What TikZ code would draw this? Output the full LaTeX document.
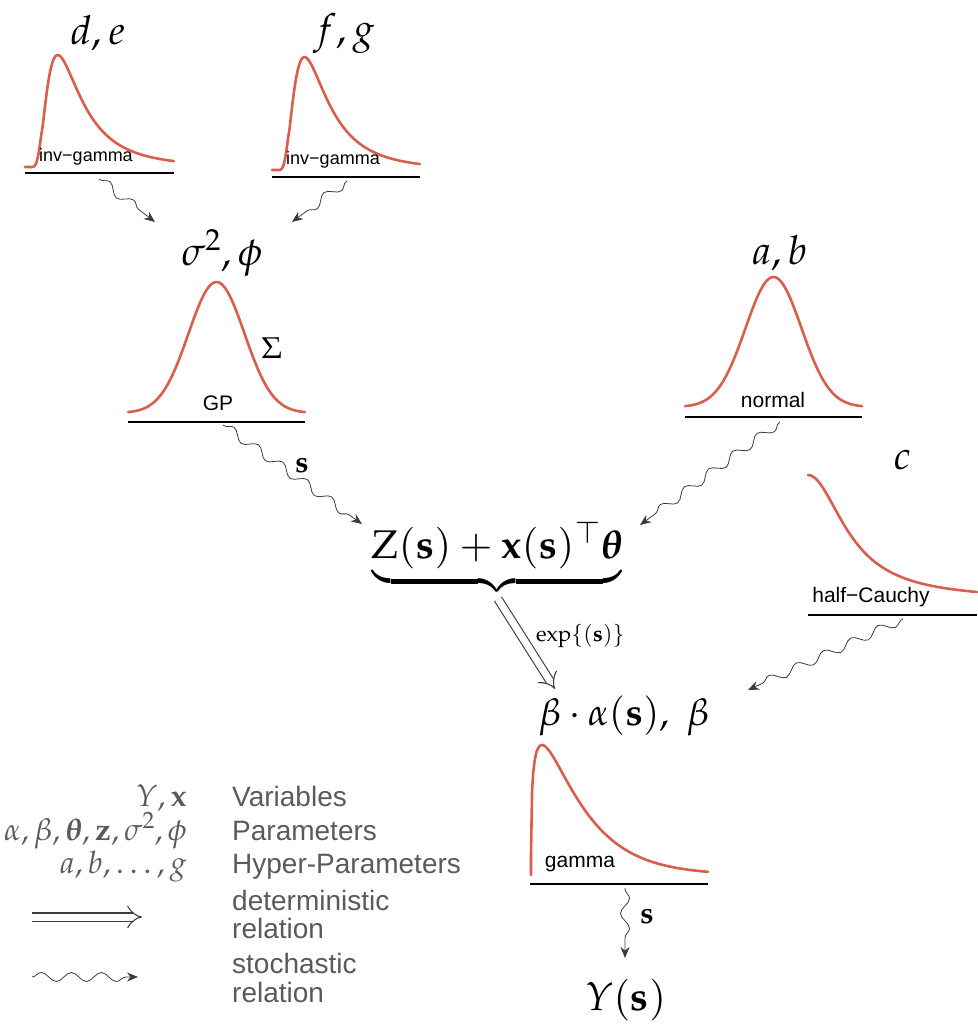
\documentclass[tikz,border=0pt]{standalone}
\usepackage{amsmath}
\usepackage{mathpazo}
\usepackage[no-math]{fontspec}
\newfontfamily\labfont{Liberation Sans}
\usetikzlibrary{arrows.meta,decorations.pathmorphing}
\definecolor{curvered}{RGB}{217,94,76}
\definecolor{arrgray}{RGB}{60,60,60}
\definecolor{leggray}{RGB}{90,90,90}
\newcommand{\linpred}{\mathrm{Z}(\mathbf{s})+\mathbf{x}(\mathbf{s})^{\top}\boldsymbol{\theta}}
\tikzset{
  curve/.style={draw=curvered, line width=2.6pt, line join=round, line cap=round},
  baseln/.style={draw=black, line width=1.3pt},
  mlab/.style={font=\fontsize{40}{44}\selectfont, inner sep=0pt},
  biglab/.style={font=\fontsize{38}{42}\selectfont, inner sep=0pt},
  distname/.style={font=\labfont\fontsize{21}{24}\selectfont, inner sep=0pt},
  smalldist/.style={font=\labfont\fontsize{18}{20}\selectfont, inner sep=0pt},
  edgelab/.style={font=\fontsize{30}{34}\selectfont, inner sep=0pt},
  legtext/.style={font=\labfont\fontsize{28}{29}\selectfont, text=leggray, inner sep=0pt, align=left},
  legmath/.style={font=\fontsize{31}{34}\selectfont, text=leggray, inner sep=0pt},
  snakearrow/.style={draw=arrgray, line width=0.8pt, decorate,
    decoration={snake, amplitude=4.5pt, segment length=30pt, pre length=1pt, post length=9pt},
    -{Stealth[length=11pt,width=9pt]}},
  detarrow/.style={draw=arrgray, double=white, double distance=7pt, line width=1.1pt,
    -{Implies[scale=1.7]}}
}
\begin{document}
\begin{tikzpicture}[x=1pt,y=-1pt]
\useasboundingbox (0,0) rectangle (977,1025);

% ---------- inv-gamma 1 (d,e)
\node[mlab] (de) at (98,33) {$d, e$};
\draw[curve] (25,167) -- plot[domain=0.05:1.14, samples=90]
  ({25+149*\x/1.14}, {167-112*exp(-1/\x-4*ln(\x)-1.5452)});
\draw[baseln] (25,173) -- (174,173);
\node[smalldist] (ig1) at (86,157) {inv−gamma};
\coordinate (ig1out) at (99,179);

% ---------- inv-gamma 2 (f,g)
\node[mlab] (fg) at (344,33) {$f, g$};
\draw[curve] (272,170) -- plot[domain=0.05:1.14, samples=90]
  ({272+148*\x/1.14}, {170-113*exp(-1/\x-4*ln(\x)-1.5452)});
\draw[baseln] (272,177) -- (420,177);
\node[smalldist] (ig2) at (333,160) {inv−gamma};
\coordinate (ig2out) at (347,181);

% ---------- GP (sigma^2, phi)
\node[mlab] (sp) at (222,253) {$\sigma^2, \phi$};
\coordinate (spin1) at (155,222);
\coordinate (spin2) at (292,222);
\draw[curve] plot[domain=-88.5:88.5, samples=90]
  ({216.5+\x}, {413-131*exp(-0.5*(\x/28)^2)});
\draw[baseln] (128,422) -- (305,422);
\node[distname] (gp) at (218,403) {GP};
\node[font=\fontsize{30}{34}\selectfont, inner sep=0pt] (sig) at (272,348) {$\Sigma$};
\coordinate (gpout) at (223,425);

% ---------- normal (a,b)
\node[mlab] (ab) at (780,253) {$a, b$};
\draw[curve] plot[domain=-88.5:88.5, samples=90]
  ({773.5+\x}, {407-130*exp(-0.5*(\x/28)^2)});
\draw[baseln] (685,417) -- (862,417);
\node[distname] (nrm) at (773,400) {normal};
\coordinate (nrmout) at (780,422);

% ---------- half-Cauchy (c)
\node[mlab] (c) at (903,460) {$c$};
\draw[curve] plot[domain=0:0.955, samples=70]
  ({808+177*\x}, {600-125/(1+16*\x*\x)});
\draw[baseln] (808,615) -- (977,615);
\node[distname] (hc) at (871,597) {half−Cauchy};
\coordinate (hcout) at (903,619);

% ---------- linear predictor
\node[font=\fontsize{40}{44}\selectfont, inner sep=0pt, anchor=base] (lin) at (497,558)
  {$\linpred$};
\node[font=\fontsize{40}{44}\selectfont, inner sep=0pt, anchor=north] (brace) at (497,576)
  {$\underbrace{\hphantom{\linpred}}$};
\coordinate (linin1) at (362,524);
\coordinate (linin2) at (640,525);
\coordinate (linout) at (498,599);

% ---------- gamma (beta alpha(s), beta)
\node[biglab] (ba) at (624,716) {$\beta\cdot\alpha(\mathbf{s}),\ \beta$};
\coordinate (bain1) at (555,689);
\coordinate (bain2) at (748,690);
\draw[curve] (531,875) -- plot[domain=0.0003:4.84, samples=160]
  ({531+177*\x/4.84}, {875-130*exp(0.3*ln(\x)-\x+0.661)});
\draw[baseln] (530,884) -- (708,884);
\node[distname] (gam) at (580,864) {gamma};
\coordinate (gamout) at (625,888);

% ---------- Y(s)
\node[font=\fontsize{40}{44}\selectfont, inner sep=0pt] (ys) at (626,1000) {$Y(\mathbf{s})$};
\coordinate (ysin) at (625,958);

% ---------- connectors
\draw[snakearrow] (ig1out) -- (spin1);
\draw[snakearrow] (ig2out) -- (spin2);
\draw[snakearrow] (gpout) -- (linin1);
\node[edgelab] (s1) at (302,466) {$\mathbf{s}$};
\draw[snakearrow] (nrmout) -- (linin2);
\draw[detarrow] (linout) -- (bain1);
\node[font=\fontsize{22}{26}\selectfont, inner sep=0pt, anchor=west] (explab) at (536,636) {$\exp\{(\mathbf{s})\}$};
\draw[snakearrow] (hcout) -- (bain2);
\draw[snakearrow] (gamout) -- (ysin);
\node[edgelab] (s2) at (647,917) {$\mathbf{s}$};

% ---------- legend
\node[legmath, anchor=base east] (lm1) at (187,806) {$Y, \mathbf{x}$};
\node[legmath, anchor=base east] (lm2) at (187,840) {$\alpha, \beta, \boldsymbol{\theta}, \mathbf{z}, \sigma^2, \phi$};
\node[legmath, anchor=base east] (lm3) at (187,873) {$a, b, \ldots, g$};
\node[legtext, anchor=base west] (lt1) at (232,806) {Variables};
\node[legtext, anchor=base west] (lt2) at (232,840) {Parameters};
\node[legtext, anchor=base west] (lt3) at (232,873) {Hyper-Parameters};
\node[legtext, anchor=base west] (lt4) at (232,910) {deterministic};
\node[legtext, anchor=base west] (lt5) at (232,938) {relation};
\node[legtext, anchor=base west] (lt6) at (232,973) {stochastic};
\node[legtext, anchor=base west] (lt7) at (232,1002) {relation};
\coordinate (ld1) at (32,917);
\coordinate (ld2) at (142,917);
\coordinate (ls1) at (32,977);
\coordinate (ls2) at (138,977);
\draw[detarrow] (ld1) -- (ld2);
\draw[snakearrow, decoration={snake, amplitude=4.5pt, segment length=30pt, pre length=0pt, post length=10pt}] (ls1) -- (ls2);
\end{tikzpicture}
\end{document}
